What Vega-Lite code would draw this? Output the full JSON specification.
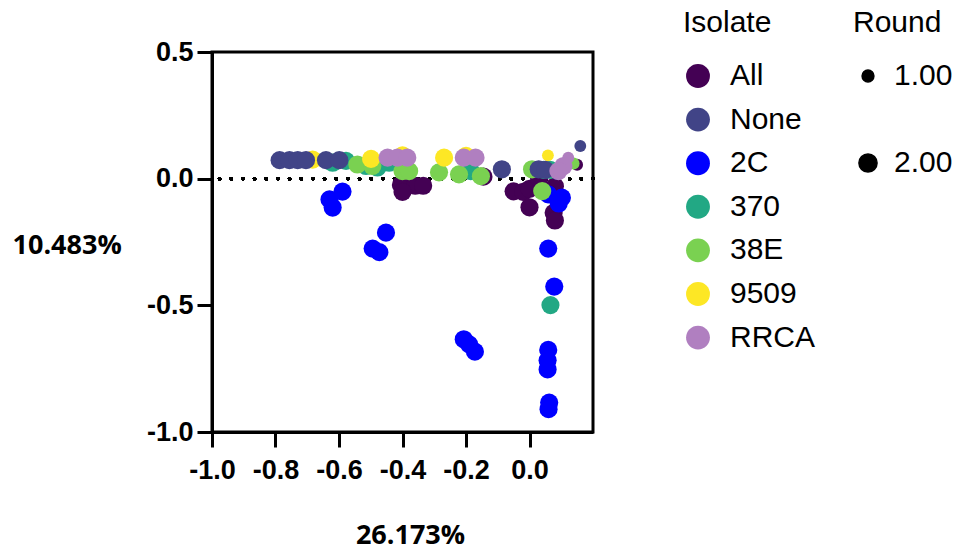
{
  "$schema": "https://vega.github.io/schema/vega-lite/v6.json",
  "width": 381,
  "height": 380,
  "autosize": {"type": "none"},
  "padding": {"left": 212, "top": 52, "right": 365, "bottom": 120},
  "background": "white",
  "config": {
    "locale": {"number": {"decimal": ".", "thousands": ",", "grouping": [3], "currency": ["$", ""], "minus": "-"}},
    "view": {"stroke": "black", "strokeWidth": 3},
    "axis": {
      "domainColor": "black", "domainWidth": 3, "tickColor": "black", "tickWidth": 3, "tickSize": 15,
      "grid": false, "labelFont": "Liberation Sans", "labelFontWeight": "bold", "labelFontSize": 27, "labelColor": "black",
      "labelOverlap": false, "labelFlush": false,
      "titleFont": "Open Sans", "titleFontWeight": "bold", "titleFontSize": 27, "titleColor": "black"
    },
    "legend": {
      "titleFont": "Liberation Sans", "titleFontWeight": "normal", "titleFontSize": 30, "titleColor": "black",
      "labelFont": "Liberation Sans", "labelFontSize": 30, "labelColor": "black", "padding": 0
    }
  },
  "data": {
    "values": [
      {"pc1": -0.405, "pc2": -0.025, "Isolate": "All", "Round": 2},
      {"pc1": -0.36, "pc2": -0.028, "Isolate": "All", "Round": 2},
      {"pc1": -0.335, "pc2": -0.028, "Isolate": "All", "Round": 2},
      {"pc1": -0.4, "pc2": -0.052, "Isolate": "All", "Round": 2},
      {"pc1": -0.145, "pc2": 0.008, "Isolate": "All", "Round": 2},
      {"pc1": -0.05, "pc2": -0.05, "Isolate": "All", "Round": 2},
      {"pc1": -0.02, "pc2": -0.052, "Isolate": "All", "Round": 2},
      {"pc1": 0.0, "pc2": -0.04, "Isolate": "All", "Round": 2},
      {"pc1": 0.0, "pc2": -0.113, "Isolate": "All", "Round": 2},
      {"pc1": 0.03, "pc2": 0.0, "Isolate": "All", "Round": 2},
      {"pc1": 0.08, "pc2": -0.03, "Isolate": "All", "Round": 2},
      {"pc1": 0.076, "pc2": -0.135, "Isolate": "All", "Round": 2},
      {"pc1": 0.08, "pc2": -0.165, "Isolate": "All", "Round": 2},
      {"pc1": 0.15, "pc2": 0.055, "Isolate": "All", "Round": 1},
      {"pc1": -0.589, "pc2": -0.051, "Isolate": "2C", "Round": 2},
      {"pc1": -0.63, "pc2": -0.082, "Isolate": "2C", "Round": 2},
      {"pc1": -0.62, "pc2": -0.114, "Isolate": "2C", "Round": 2},
      {"pc1": -0.452, "pc2": -0.213, "Isolate": "2C", "Round": 2},
      {"pc1": -0.494, "pc2": -0.276, "Isolate": "2C", "Round": 2},
      {"pc1": -0.473, "pc2": -0.29, "Isolate": "2C", "Round": 2},
      {"pc1": -0.207, "pc2": -0.634, "Isolate": "2C", "Round": 2},
      {"pc1": -0.19, "pc2": -0.654, "Isolate": "2C", "Round": 2},
      {"pc1": -0.172, "pc2": -0.683, "Isolate": "2C", "Round": 2},
      {"pc1": 0.059, "pc2": -0.276, "Isolate": "2C", "Round": 2},
      {"pc1": 0.078, "pc2": -0.426, "Isolate": "2C", "Round": 2},
      {"pc1": 0.059, "pc2": -0.676, "Isolate": "2C", "Round": 2},
      {"pc1": 0.057, "pc2": -0.717, "Isolate": "2C", "Round": 2},
      {"pc1": 0.057, "pc2": -0.753, "Isolate": "2C", "Round": 2},
      {"pc1": 0.062, "pc2": -0.884, "Isolate": "2C", "Round": 2},
      {"pc1": 0.06, "pc2": -0.91, "Isolate": "2C", "Round": 2},
      {"pc1": 0.059, "pc2": -0.062, "Isolate": "2C", "Round": 2},
      {"pc1": 0.102, "pc2": -0.075, "Isolate": "2C", "Round": 2},
      {"pc1": 0.092, "pc2": -0.098, "Isolate": "2C", "Round": 2},
      {"pc1": 0.085, "pc2": 0.02, "Isolate": "2C", "Round": 1},
      {"pc1": -0.62, "pc2": 0.063, "Isolate": "370", "Round": 2},
      {"pc1": -0.578, "pc2": 0.07, "Isolate": "370", "Round": 2},
      {"pc1": -0.515, "pc2": 0.05, "Isolate": "370", "Round": 2},
      {"pc1": -0.479, "pc2": 0.044, "Isolate": "370", "Round": 2},
      {"pc1": -0.442, "pc2": 0.063, "Isolate": "370", "Round": 2},
      {"pc1": -0.185, "pc2": 0.03, "Isolate": "370", "Round": 2},
      {"pc1": 0.066, "pc2": -0.499, "Isolate": "370", "Round": 2},
      {"pc1": 0.045, "pc2": 0.035, "Isolate": "370", "Round": 2},
      {"pc1": 0.065, "pc2": 0.035, "Isolate": "370", "Round": 2},
      {"pc1": -0.542, "pc2": 0.056, "Isolate": "38E", "Round": 2},
      {"pc1": -0.495, "pc2": 0.05, "Isolate": "38E", "Round": 2},
      {"pc1": -0.4, "pc2": 0.03, "Isolate": "38E", "Round": 2},
      {"pc1": -0.379, "pc2": 0.03, "Isolate": "38E", "Round": 2},
      {"pc1": -0.285, "pc2": 0.025, "Isolate": "38E", "Round": 2},
      {"pc1": -0.222, "pc2": 0.017, "Isolate": "38E", "Round": 2},
      {"pc1": -0.153, "pc2": 0.01, "Isolate": "38E", "Round": 2},
      {"pc1": 0.008, "pc2": 0.037, "Isolate": "38E", "Round": 2},
      {"pc1": 0.04, "pc2": -0.049, "Isolate": "38E", "Round": 2},
      {"pc1": 0.139, "pc2": 0.06, "Isolate": "38E", "Round": 1},
      {"pc1": -0.683, "pc2": 0.075, "Isolate": "9509", "Round": 2},
      {"pc1": -0.499, "pc2": 0.078, "Isolate": "9509", "Round": 2},
      {"pc1": -0.4, "pc2": 0.092, "Isolate": "9509", "Round": 2},
      {"pc1": -0.269, "pc2": 0.083, "Isolate": "9509", "Round": 2},
      {"pc1": -0.2, "pc2": 0.09, "Isolate": "9509", "Round": 2},
      {"pc1": 0.058, "pc2": 0.092, "Isolate": "9509", "Round": 1},
      {"pc1": -0.787, "pc2": 0.073, "Isolate": "None", "Round": 2},
      {"pc1": -0.756, "pc2": 0.073, "Isolate": "None", "Round": 2},
      {"pc1": -0.73, "pc2": 0.073, "Isolate": "None", "Round": 2},
      {"pc1": -0.704, "pc2": 0.073, "Isolate": "None", "Round": 2},
      {"pc1": -0.641, "pc2": 0.073, "Isolate": "None", "Round": 2},
      {"pc1": -0.599, "pc2": 0.073, "Isolate": "None", "Round": 2},
      {"pc1": -0.087, "pc2": 0.037, "Isolate": "None", "Round": 2},
      {"pc1": 0.029, "pc2": 0.037, "Isolate": "None", "Round": 2},
      {"pc1": 0.05, "pc2": 0.035, "Isolate": "None", "Round": 2},
      {"pc1": 0.16, "pc2": 0.129, "Isolate": "None", "Round": 1},
      {"pc1": -0.447, "pc2": 0.083, "Isolate": "RRCA", "Round": 2},
      {"pc1": -0.416, "pc2": 0.083, "Isolate": "RRCA", "Round": 2},
      {"pc1": -0.385, "pc2": 0.083, "Isolate": "RRCA", "Round": 2},
      {"pc1": -0.207, "pc2": 0.083, "Isolate": "RRCA", "Round": 2},
      {"pc1": -0.17, "pc2": 0.083, "Isolate": "RRCA", "Round": 2},
      {"pc1": 0.122, "pc2": 0.083, "Isolate": "RRCA", "Round": 1},
      {"pc1": 0.107, "pc2": 0.05, "Isolate": "RRCA", "Round": 2},
      {"pc1": 0.091, "pc2": 0.03, "Isolate": "RRCA", "Round": 2}
    ]
  },
  "layer": [
    {
      "mark": {"type": "rule", "color": "black", "strokeWidth": 3.5, "strokeDash": [0.01, 11.66], "strokeCap": "round"},
      "encoding": {"y": {"datum": 0, "type": "quantitative"}}
    },
    {
      "mark": {"type": "circle", "opacity": 1},
      "encoding": {
        "x": {
          "field": "pc1", "type": "quantitative",
          "scale": {"domain": [-1, 0.2], "nice": false, "zero": false},
          "axis": {
            "title": "26.173%", "values": [-1, -0.8, -0.6, -0.4, -0.2, 0], "format": ".1f", "labelPadding": 10,
            "titleAnchor": null, "titleX": 198, "titleY": 103, "titleBaseline": "middle", "titleAlign": "center"
          }
        },
        "y": {
          "field": "pc2", "type": "quantitative",
          "scale": {"domain": [-1, 0.5], "nice": false, "zero": false},
          "axis": {
            "title": "10.483%", "values": [-1, -0.5, 0, 0.5], "format": ".1f", "labelPadding": 4,
            "titleAngle": 0, "titleX": -200, "titleY": 193, "titleAlign": "left", "titleBaseline": "middle"
          }
        },
        "color": {
          "field": "Isolate", "type": "nominal",
          "scale": {
            "domain": ["All", "None", "2C", "370", "38E", "9509", "RRCA"],
            "range": ["#440154", "#414487", "#0000ff", "#22a884", "#7ad151", "#fde725", "#b07fc0"]
          },
          "legend": {
            "orient": "none", "legendX": 471, "legendY": -44, "symbolSize": 570, "symbolType": "circle",
            "symbolOpacity": 1, "labelOffset": 17, "rowPadding": 13.6, "titlePadding": 23
          }
        },
        "size": {
          "field": "Round", "type": "quantitative",
          "scale": {"domain": [1, 2], "range": [140, 330]},
          "legend": {
            "orient": "none", "legendX": 641, "legendY": -44, "values": [1, 2], "format": ".2f",
            "symbolFillColor": "black", "symbolStrokeColor": "black", "symbolOpacity": 1, "symbolType": "circle",
            "labelOffset": 11, "rowPadding": 57, "titlePadding": 23
          }
        }
      }
    }
  ]
}
